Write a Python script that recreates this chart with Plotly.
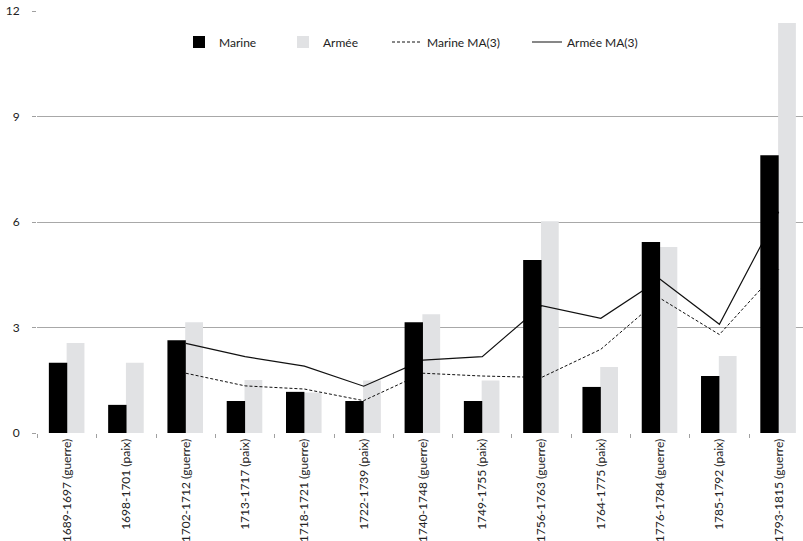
import plotly.graph_objects as go

categories = ["1689-1697 (guerre)", "1698-1701 (paix)", "1702-1712 (guerre)", "1713-1717 (paix)",
              "1718-1721 (guerre)", "1722-1739 (paix)", "1740-1748 (guerre)", "1749-1755 (paix)",
              "1756-1763 (guerre)", "1764-1775 (paix)", "1776-1784 (guerre)", "1785-1792 (paix)",
              "1793-1815 (guerre)"]
marine = [2.0, 0.80, 2.64, 0.91, 1.17, 0.91, 3.15, 0.91, 4.92, 1.31, 5.43, 1.62, 7.90]
armee = [2.56, 2.0, 3.15, 1.51, 1.15, 1.49, 3.38, 1.49, 6.02, 1.88, 5.29, 2.19, 11.66]
marine_ma = [None, None, 1.70, 1.34, 1.25, 0.92, 1.70, 1.62, 1.58, 2.38, 3.83, 2.80, 4.65]
armee_ma = [None, None, 2.55, 2.17, 1.90, 1.33, 2.07, 2.17, 3.62, 3.26, 4.37, 3.09, 6.29]
y_ticks = [0, 3, 6, 9, 12]

W, H = 803, 541
FONT = "Lato"

fig = go.Figure()
fig.add_trace(go.Bar(x=categories, y=armee, name="Armée", marker=dict(color="#e1e2e4", line=dict(width=0)),
                     width=0.30, offset=-0.01, zorder=0, legend="legend2"))
fig.add_trace(go.Scatter(x=categories, y=marine_ma, name="Marine MA(3)", mode="lines",
                         line=dict(color="#111111", width=1, dash="3px,2px"), zorder=1, legend="legend3"))
fig.add_trace(go.Scatter(x=categories, y=armee_ma, name="Armée MA(3)", mode="lines",
                         line=dict(color="#111111", width=1.2), zorder=1, legend="legend4"))
fig.add_trace(go.Bar(x=categories, y=marine, name="Marine", marker=dict(color="#000000", line=dict(width=0)),
                     width=0.31, offset=-0.31, zorder=2, legend="legend"))

def leg(xpx):
    return dict(x=xpx / W, xref="container", xanchor="left", y=1 - 42 / H, yref="container",
                yanchor="middle", orientation="h", bgcolor="rgba(0,0,0,0)",
                font=dict(family=FONT, size=12, color="#222222"))

fig.update_layout(
    width=W, height=H,
    margin=dict(l=37, r=0, t=11, b=108, autoexpand=False),
    paper_bgcolor="white", plot_bgcolor="white",
    barmode="overlay",
    showlegend=True,
    legend=leg(179), legend2=leg(283), legend3=leg(387), legend4=leg(527),
    font=dict(family=FONT, size=12, color="#222222"),
    xaxis=dict(range=[-0.51, 12.41], tickangle=-90, tickson="boundaries", ticks="outside",
               ticklen=4, tickcolor="#a0a0a0", showline=True, linecolor="#a0a0a0", linewidth=1,
               showgrid=False, automargin=False, tickfont=dict(family=FONT, size=12, color="#222222")),
    yaxis=dict(range=[0, 12], tickvals=y_ticks, ticks="outside", ticklen=4, tickcolor="#a0a0a0",
               showline=True, linecolor="#a0a0a0", linewidth=1, showgrid=True, gridcolor="#a8a8a8",
               gridwidth=1, zeroline=False, ticklabelstandoff=10, automargin=False,
               tickfont=dict(family=FONT, size=12, color="#222222")),
)

fig.write_html("out.html")
